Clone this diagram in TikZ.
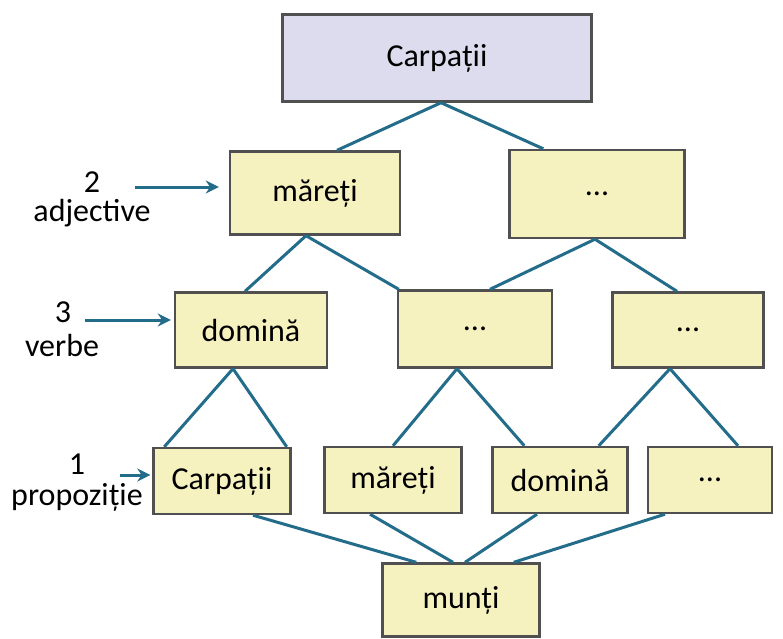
\documentclass[tikz,border=0pt]{standalone}
\usepackage{fontspec}
\setmainfont{Carlito}
\usetikzlibrary{arrows.meta}
\definecolor{notefill}{RGB}{246,242,192}
\definecolor{topfill}{RGB}{220,220,238}
\definecolor{edgegray}{RGB}{80,80,80}
\definecolor{linkteal}{RGB}{35,108,138}

\begin{document}
\begin{tikzpicture}[
  x=1pt, y=-1pt,
  every node/.style={font=\fontsize{32}{37}\selectfont},
  note/.style={
    rectangle, draw=edgegray, line width=2.4pt,
    fill=notefill, inner sep=0pt, text centered
  },
  topnote/.style={note, fill=topfill},
  lbl/.style={inner sep=0pt, align=center},
  link/.style={draw=linkteal, line width=3pt},
  pointer/.style={-{Stealth[length=13pt, width=13pt]}, draw=linkteal, line width=3pt}
]
\useasboundingbox (0,0) rectangle (783,638);

% nivelul de sus
\node[topnote, minimum width=309, minimum height=87] (top) at (437,58) {Carpații};

% adjective
\node[note, minimum width=170, minimum height=83] (adj1) at (315,193) {măreți};
\node[note, minimum width=175, minimum height=88] (adj2) at (597,194) {...};

% verbe
\node[note, minimum width=152, minimum height=75] (vb1) at (251,330) {domină};
\node[note, minimum width=154, minimum height=77] (vb2) at (475,329) {...};
\node[note, minimum width=151, minimum height=75] (vb3) at (688,330) {...};

% propozitie
\node[note, minimum width=137, minimum height=66] (w1) at (222,481) {Carpații};
\node[note, minimum width=137, minimum height=66] (w2) at (393,480) {măreți};
\node[note, minimum width=135, minimum height=66] (w3) at (560,480) {domină};
\node[note, minimum width=124, minimum height=66] (w4) at (710,480) {...};

\node[note, minimum width=157, minimum height=73] (base) at (461,600) {munți};

% etichete din stanga
\node[lbl] (lbl2) at (92,182) {2};
\node[lbl] (lbl2t) at (92,213) {adjective};
\node[lbl] (lbl3) at (63,312) {3};
\node[lbl] (lbl3t) at (62,345) {verbe};
\node[lbl] (lbl1) at (77,464) {1};
\node[lbl] (lbl1t) at (77,497) {propoziție};

\coordinate (p2) at (135,187);
\coordinate (p3) at (85,320);
\coordinate (p1) at (120,475);

\draw[pointer] (p2) -- ([xshift=-10pt, yshift=6pt]adj1.west);
\draw[pointer] (p3) -- ([xshift=-3pt, yshift=10pt]vb1.west);
\draw[pointer] (p1) -- ([xshift=-2pt, yshift=6pt]w1.west);

% legaturi
\draw[link] ([xshift=4pt]top.south) -- ([xshift=22pt]adj1.north);
\draw[link] ([xshift=4pt]top.south) -- ([xshift=35pt]adj2.north west);

\draw[link] ([xshift=-9pt]adj1.south) -- ([xshift=-6pt]vb1.north);
\draw[link] ([xshift=-9pt]adj1.south) -- ([xshift=2pt]vb2.north west);
\draw[link] ([xshift=-2pt]adj2.south) -- ([xshift=15pt]vb2.north);
\draw[link] ([xshift=-2pt]adj2.south) -- ([xshift=-11pt]vb3.north);

\draw[link] ([xshift=-18pt]vb1.south) -- ([xshift=12pt]w1.north west);
\draw[link] ([xshift=-18pt]vb1.south) -- ([xshift=-5pt]w1.north east);
\draw[link] ([xshift=-18pt]vb2.south) -- (w2.north);
\draw[link] ([xshift=-18pt]vb2.south) -- ([xshift=33pt]w3.north west);
\draw[link] ([xshift=-18pt]vb3.south) -- ([xshift=-30pt]w3.north east);
\draw[link] ([xshift=-18pt]vb3.south) -- ([xshift=28pt]w4.north);

\draw[link] ([xshift=31pt]w1.south) -- ([xshift=35pt]base.north west);
\draw[link] ([xshift=-23pt]w2.south) -- ([xshift=-8pt]base.north);
\draw[link] ([xshift=-23pt]w3.south) -- ([xshift=4pt]base.north);
\draw[link] ([xshift=-45pt]w4.south) -- ([xshift=-27pt]base.north east);

\end{tikzpicture}
\end{document}
